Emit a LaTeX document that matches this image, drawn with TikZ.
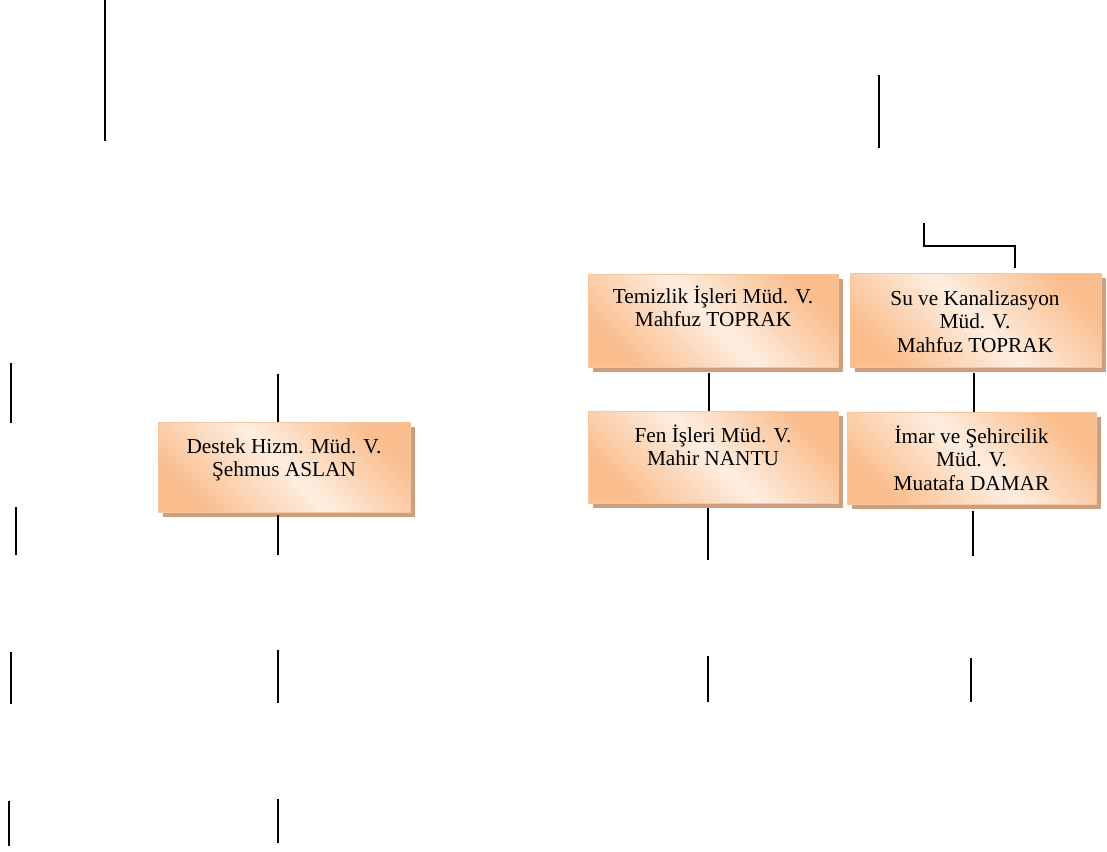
\documentclass[tikz,border=0pt]{standalone}
\usepackage{fontspec}
\setmainfont{Liberation Serif}
\usetikzlibrary{shadows}
\definecolor{boxor}{RGB}{250,190,142}
\definecolor{boxlt}{RGB}{254,238,225}
\definecolor{boxbd}{RGB}{248,198,156}
\definecolor{shd}{RGB}{204,160,126}
\begin{document}
\begin{tikzpicture}[x=1pt,y=-1pt,
  ln/.style={line width=1.4pt, black},
  orgbox/.style={draw=boxbd, line width=1pt, inner sep=0pt, anchor=north west,
    top color=boxor, bottom color=boxor, middle color=boxlt, shading angle=-45,
    drop shadow={shadow xshift=4pt, shadow yshift=-4pt, fill=shd, opacity=1}},
  lbl/.style={align=center, anchor=north, inner sep=0pt, font=\fontsize{21.3}{23.5}\selectfont}
]
\useasboundingbox (0,0) rectangle (1107,851);

% boxes
\node[orgbox, minimum width=252pt, minimum height=90pt] (des) at (158,422) {};
\node[orgbox, minimum width=250pt, minimum height=93pt] (tem) at (588,274) {};
\node[orgbox, minimum width=251pt, minimum height=94pt] (su)  at (850,273) {};
\node[orgbox, minimum width=250pt, minimum height=92pt] (fen) at (588,411) {};
\node[orgbox, minimum width=249pt, minimum height=92pt] (imar) at (847,412) {};

% texts
\node[lbl] (des-t) at (284,434) {\rule{0pt}{19pt}Destek Hizm. Müd. V.\\ Şehmus ASLAN};
\node[lbl] (tem-t) at (713,284) {\rule{0pt}{19pt}Temizlik İşleri Müd. V.\\ Mahfuz TOPRAK};
\node[lbl] (su-t)  at (975,286) {\rule{0pt}{19pt}Su ve Kanalizasyon\\ Müd. V.\\ Mahfuz TOPRAK};
\node[lbl] (fen-t) at (713,423) {\rule{0pt}{19pt}Fen İşleri Müd. V.\\ Mahir NANTU};
\node[lbl] (imar-t) at (971.5,424) {\rule{0pt}{19pt}İmar ve Şehircilik\\ Müd. V.\\ Muatafa DAMAR};

% coordinates for free line ends
\coordinate (a1) at (105,0);   \coordinate (a2) at (105,141);
\coordinate (b1) at (879,75);  \coordinate (b2) at (879,148);
\coordinate (k1) at (924,223); \coordinate (k2) at (924,246);
\coordinate (k3) at (1015,246); \coordinate (k4) at (1015,268);
\coordinate (l1) at (11,363);  \coordinate (l2) at (11,423);
\coordinate (d1) at (278,374);
\coordinate (l3) at (16,507);  \coordinate (l4) at (16,555);
\coordinate (d2) at (278,515); \coordinate (d3) at (278,555);
\coordinate (l5) at (11,652);  \coordinate (l6) at (11,704);
\coordinate (d4) at (278,650); \coordinate (d5) at (278,703);
\coordinate (l7) at (9,801);   \coordinate (l8) at (9,846);
\coordinate (d6) at (278,799); \coordinate (d7) at (278,843);
\coordinate (t1) at (709,373);
\coordinate (s1) at (974,373);
\coordinate (f1) at (708,508); \coordinate (f2) at (708,560);
\coordinate (i1) at (973,511); \coordinate (i2) at (973,556);
\coordinate (f3) at (708,656); \coordinate (f4) at (708,702);
\coordinate (i3) at (971,658); \coordinate (i4) at (971,702);

% connectors
\draw[ln] (a1) -- (a2);
\draw[ln] (b1) -- (b2);
\draw[ln] (k1) -- (k2) -- (k3) -- (k4);
\draw[ln] (l1) -- (l2);
\draw[ln] (d1) -- (d1 |- des.north);
\draw[ln] (l3) -- (l4);
\draw[ln] (d2) -- (d3);
\draw[ln] (l5) -- (l6);
\draw[ln] (d4) -- (d5);
\draw[ln] (l7) -- (l8);
\draw[ln] (d6) -- (d7);
\draw[ln] (t1) -- (t1 |- fen.north);
\draw[ln] (s1) -- (s1 |- imar.north);
\draw[ln] (f1) -- (f2);
\draw[ln] (i1) -- (i2);
\draw[ln] (f3) -- (f4);
\draw[ln] (i3) -- (i4);
\end{tikzpicture}
\end{document}
